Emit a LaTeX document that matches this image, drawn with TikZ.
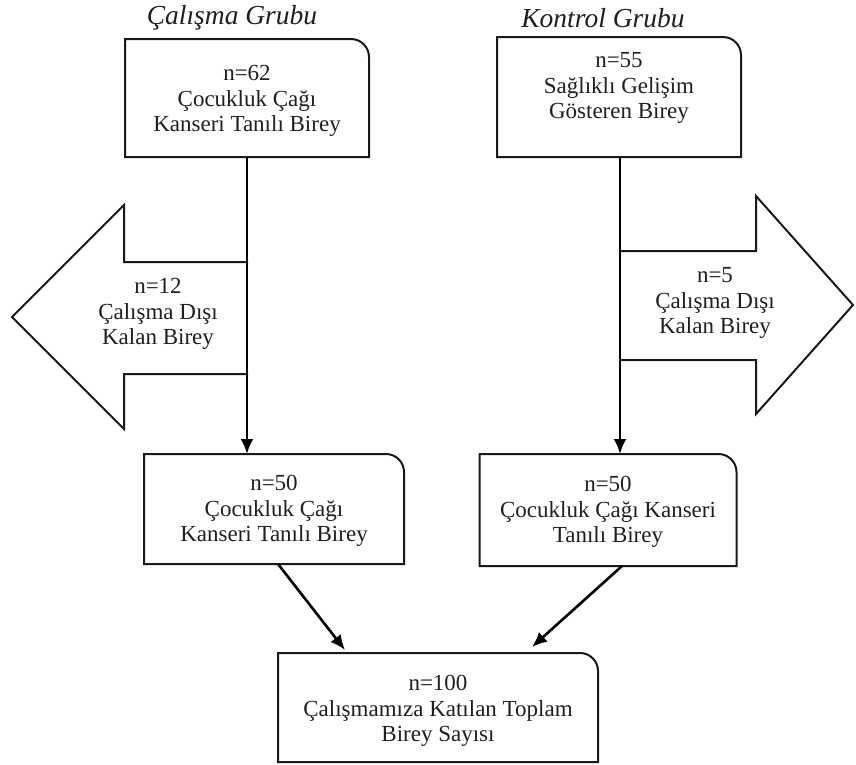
\documentclass[tikz,border=0pt]{standalone}
\usepackage{fontspec}
\setmainfont{Liberation Serif}
\usetikzlibrary{arrows.meta}
\newcommand\rcbox[1]{\draw[boxline] (#1.south west) -- (#1.north west) -- ([xshift=-18pt]#1.north east) arc[start angle=90,end angle=0,radius=18pt] -- (#1.south east) -- cycle;}
\begin{document}
\begin{tikzpicture}[x=1pt,y=-1pt,
  frame/.style={inner sep=0pt, outer sep=0pt, draw=none},
  boxline/.style={line width=2pt, draw=black!90},
  shapeline/.style={line width=2pt, draw=black!90, line join=miter},
  txt/.style={align=center, inner sep=0pt, text=black!88, font=\fontsize{23}{25.5}\selectfont},
  ttl/.style={inner sep=0pt, text=black!88, font=\fontsize{27.5}{30}\selectfont\itshape},
  conn/.style={line width=2.6pt, draw=black, -{Latex[length=15pt,width=13pt]}}]
\useasboundingbox (0,0) rectangle (856,764);

% titles
\node[ttl] (t1) at (232,18) {Çalışma Grubu};
\node[ttl] (t2) at (603,18) {Kontrol Grubu};

% box frames
\node[frame, minimum width=244pt, minimum height=118pt] (b1) at (247,98) {};
\node[frame, minimum width=244pt, minimum height=120pt] (b2) at (619,97) {};
\node[frame, minimum width=260pt, minimum height=110pt] (b3) at (274,509) {};
\node[frame, minimum width=257pt, minimum height=112pt] (b4) at (608,510) {};
\node[frame, minimum width=320pt, minimum height=109pt] (b5) at (438,707.5) {};
\rcbox{b1}
\rcbox{b2}
\rcbox{b3}
\rcbox{b4}
\rcbox{b5}

% box texts
\node[txt] (x1) at (247,101) {n=62\\Çocukluk Çağı\\Kanseri Tanılı Birey};
\node[txt] (x2) at (619,88) {n=55\\Sağlıklı Gelişim\\Gösteren Birey};
\node[txt] (x3) at (274,511) {n=50\\Çocukluk Çağı\\Kanseri Tanılı Birey};
\node[txt] (x4) at (608,512) {n=50\\Çocukluk Çağı Kanseri\\Tanılı Birey};
\node[txt] (x5) at (438,711) {n=100\\Çalışmamıza Katılan Toplam\\Birey Sayısı};

% exclusion arrows (block shapes)
\draw[shapeline] (248,262) -- (124,262) -- (124,205) -- (12,317) -- (124,429) -- (124,374) -- (248,374);
\draw[shapeline] (620,251) -- (756,251) -- (756,196) -- (853,305) -- (756,414) -- (756,360) -- (620,360);
\node[txt] (e1) at (158,314) {n=12\\Çalışma Dışı\\Kalan Birey};
\node[txt] (e2) at (715,303) {n=5\\Çalışma Dışı\\Kalan Birey};

% connectors
\draw[conn] (b1.south) -- (b1.south |- b3.north);
\draw[conn] ([xshift=1pt]b2.south) -- ([xshift=1pt]b2.south |- b4.north);
\draw[conn] ([xshift=4pt]b3.south) -- ([xshift=-93pt,yshift=3pt]b5.north);
\draw[conn] ([xshift=14pt]b4.south) -- ([xshift=94pt,yshift=6pt]b5.north);
\end{tikzpicture}
\end{document}
